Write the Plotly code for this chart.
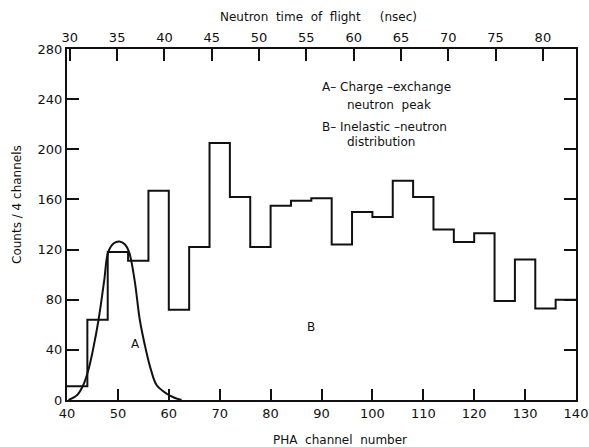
import plotly.graph_objs as go

# PHA channel bins (4 channels each) and counts
bin_left = [40, 44, 48, 52, 56, 60, 64, 68, 72, 76, 80, 84, 88, 92, 96,
            100, 104, 108, 112, 116, 120, 124, 128, 132, 136]
counts = [11, 64, 118, 111, 167, 72, 122, 205, 162, 122, 155, 159, 161, 124, 150,
          146, 175, 162, 136, 126, 133, 79, 112, 73, 80]
bin_width = 4

# charge-exchange peak curve (A)
peak_x = [40.3, 42.0, 43.2, 44.2, 45.1, 46.2, 47.3, 48.1, 49.2, 50.3, 51.4, 52.2,
          53.3, 54.3, 55.5, 56.5, 57.6, 59.6, 61.0, 62.5]
peak_y = [0, 4, 12, 24, 40, 64, 95, 118, 125, 126.5, 124, 118,
          95, 64, 40, 24, 12, 5, 2, 0]

y_ticks = [0, 40, 80, 120, 160, 200, 240, 280]
x_ticks = [40, 50, 60, 70, 80, 90, 100, 110, 120, 130, 140]
tof_ticks = [30, 35, 40, 45, 50, 55, 60, 65, 70, 75, 80]

step_x = bin_left + [bin_left[-1] + bin_width]
step_y = counts + [counts[-1]]

tick_font = dict(family='DejaVu Sans, sans-serif', size=13, color='#111')
font = dict(family='DejaVu Sans, sans-serif', size=12, color='#111')

fig = go.Figure()
fig.add_trace(go.Scatter(x=step_x, y=step_y, mode='lines', line_shape='hv',
                         line=dict(color='#111', width=2), hoverinfo='skip'))
fig.add_trace(go.Scatter(x=peak_x, y=peak_y, mode='lines', line_shape='spline',
                         line=dict(color='#111', width=2), hoverinfo='skip'))
# dummy trace so the top time-of-flight axis is drawn
fig.add_trace(go.Scatter(x=[30], y=[0], xaxis='x2', mode='markers',
                         marker=dict(opacity=0), hoverinfo='skip'))

axis_common = dict(showgrid=False, zeroline=False, showline=True,
                   linecolor='#111', linewidth=2, ticks='inside',
                   tickcolor='#111', tickwidth=1.5, tickfont=tick_font)

def note(text, x, y, paper=False, **kw):
    ref = dict(xref='paper', yref='paper') if paper else {}
    return dict(text=text, x=x, y=y, showarrow=False, font=font,
                xanchor=kw.pop('xanchor', 'center'), yanchor='middle', **ref, **kw)

fig.update_layout(
    width=589, height=447,
    margin=dict(l=67, r=13, t=49, b=47, autoexpand=False),
    plot_bgcolor='white', paper_bgcolor='white',
    showlegend=False,
    font=font,
    xaxis=dict(range=[40, 140], tickvals=x_ticks, ticklen=11, mirror=True,
               **axis_common),
    xaxis2=dict(range=[29.7, 83.5], tickvals=tof_ticks, ticklen=12,
                overlaying='x', side='top', anchor='y', **axis_common),
    yaxis=dict(range=[0, 280], tickvals=y_ticks, ticklen=12, mirror='ticks',
               **axis_common),
    annotations=[
        note('Neutron  time  of  flight     (nsec)', 0.494, 1.091, paper=True),
        note('PHA  channel  number', 0.536, -0.114, paper=True),
        note('Counts / 4 channels', -0.098, 0.556, paper=True, textangle=-90),
        note('A– Charge –exchange', 89.8, 249.5, xanchor='left'),
        note('neutron  peak', 94.6, 235, xanchor='left'),
        note('B– Inelastic –neutron', 89.8, 218, xanchor='left'),
        note('distribution', 94.6, 206, xanchor='left'),
        note('A', 53.4, 45),
        note('B', 88, 58),
    ],
)

# drop the default body margin so the figure sits at the page corner
fig.write_html("out.html", config={'displayModeBar': False},
               post_script="document.body.style.margin='0';")
